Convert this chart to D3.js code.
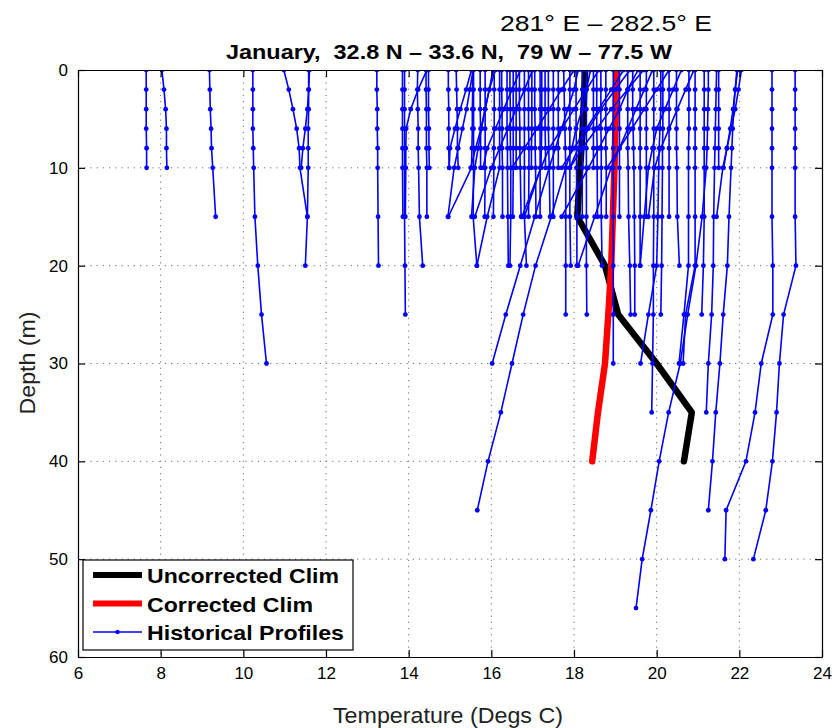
<!DOCTYPE html>
<html>
<head>
<meta charset="utf-8">
<script src="https://cdn.jsdelivr.net/npm/d3@7"></script>
<style>
  html, body { margin: 0; padding: 0; background: #ffffff; }
  svg { display: block; font-family: "Liberation Sans", Arial, Helvetica, sans-serif; }
  .keep-spaces { white-space: pre; }
</style>
</head>
<body>
<svg id="chart" width="835" height="728"></svg>
<script>
// Standard observation depths (m) used by every profile below
const depthLevels = [0, 2, 4, 6, 8, 10, 15, 20, 25, 30, 35, 40, 45, 50, 55];

// Climatologies (temperature at each standard depth, 0-40 m)
const uncorrectedTemps = [18.27, 18.25, 18.23, 18.21, 18.18, 18.15, 18.08, 18.75, 19.07, 20.0, 20.85, 20.66];
const correctedTemps   = [19.03, 19.02, 19.01, 19.0, 18.99, 18.98, 18.94, 18.9, 18.83, 18.75, 18.58, 18.44];

// Historical profiles: temperatures at depthLevels, each cut at its last observed depth
const historicalProfiles = [
  [7.65, 7.65, 7.65, 7.65, 7.66, 7.66],
  [8.03, 8.08, 8.12, 8.14, 8.14, 8.15],
  [9.18, 9.19, 9.2, 9.22, 9.23, 9.26, 9.33],
  [10.23, 10.23, 10.23, 10.23, 10.24, 10.25, 10.28, 10.35, 10.44, 10.56],
  [10.98, 11.1, 11.2, 11.29, 11.35, 11.37, 11.55],
  [11.58, 11.58, 11.58, 11.57, 11.57, 11.57, 11.55, 11.5],
  [11.6, 11.58, 11.55, 11.5, 11.44, 11.4],
  [13.23, 13.23, 13.24, 13.24, 13.25, 13.25, 13.26, 13.27],
  [13.85, 13.85, 13.85, 13.85, 13.85, 13.85, 13.86],
  [13.9, 13.9, 13.9, 13.9, 13.9, 13.9, 13.9, 13.91, 13.92],
  [14.44, 14.23, 14.05, 13.94, 13.93, 13.93, 13.92],
  [14.22, 14.21, 14.22, 14.23, 14.23, 14.24, 14.26, 14.34],
  [14.42, 14.42, 14.43, 14.43, 14.43, 14.44, 14.44],
  [14.48, 14.48, 14.48, 14.49, 14.49, 14.5],
  [14.96, 14.96, 14.97, 14.97, 14.97, 14.98],
  [15.15, 15.16, 15.17, 15.18, 15.18, 15.2],
  [15.52, 15.39, 15.25, 15.12, 15.0, 14.98],
  [15.55, 15.55, 15.54, 15.54, 15.53, 15.52, 14.96],
  [15.57, 15.57, 15.57, 15.57, 15.57, 15.57, 15.56, 15.65],
  [15.85, 15.85, 15.85, 15.85, 15.85, 15.85, 15.84],
  [15.73, 15.73, 15.73, 15.74, 15.74, 15.74],
  [16.07, 16.07, 16.07, 16.07, 16.06, 16.06, 16.05],
  [16.1, 15.95, 15.85, 15.75, 15.62, 15.5],
  [16.04, 15.95, 15.85, 15.76, 15.68, 15.6, 15.52],
  [15.56, 15.48, 15.4, 15.3, 15.2, 15.1, 14.95],
  [16.2, 16.2, 16.2, 16.2, 16.2, 16.2, 15.9, 15.65],
  [16.38, 16.38, 16.38, 16.38, 16.39, 16.39, 16.4, 16.41],
  [16.45, 16.45, 16.46, 16.46, 16.46, 16.47, 16.47, 16.45],
  [16.53, 16.53, 16.53, 16.53, 16.53, 16.53, 16.52],
  [16.68, 16.68, 16.68, 16.69, 16.69, 16.7, 16.72],
  [16.9, 16.9, 16.9, 16.9, 16.91, 16.91, 16.9],
  [16.98, 16.98, 16.98, 16.98, 16.97, 16.97],
  [17.22, 17.22, 17.22, 17.22, 17.21, 17.2, 16.74],
  [17.18, 17.18, 17.18, 17.18, 17.18, 17.18, 17.18],
  [17.38, 17.38, 17.38, 17.38, 17.39, 17.4, 17.42],
  [18.4, 18.3, 18.2, 18.05, 17.95, 17.8, 17.45, 17.07, 16.77, 16.5, 16.23, 15.92, 15.66],
  [18.1, 18.0, 17.85, 17.7, 17.55, 17.4, 17.05, 16.7, 16.35, 16.02],
  [17.75, 17.76, 17.77, 17.78, 17.79, 17.8, 17.8, 17.8, 17.8],
  [18.05, 18.05, 18.05, 18.05, 18.06, 18.06, 18.07, 18.07],
  [18.3, 18.3, 18.3, 18.3, 18.3, 18.3, 18.3, 18.3, 18.31],
  [18.2, 18.2, 18.2, 18.2, 18.2, 18.2, 18.2],
  [18.47, 18.47, 18.47, 18.47, 18.47, 18.47],
  [18.65, 18.65, 18.65, 18.65, 18.66, 18.66, 18.66, 18.68],
  [18.77, 18.77, 18.77, 18.77, 18.77, 18.78, 18.78],
  [18.95, 18.95, 18.95, 18.95, 18.95, 18.95, 18.95, 18.95, 18.95, 18.95],
  [19.3, 19.3, 19.3, 19.3, 19.3, 19.31, 19.32, 19.35, 19.37],
  [19.42, 19.42, 19.42, 19.43, 19.44, 19.45, 19.46, 19.47, 19.47],
  [20.1, 20.1, 20.1, 20.08, 20.06, 20.05, 20.03, 20.0, 19.8, 19.61],
  [19.93, 19.93, 19.93, 19.93, 19.93, 19.93, 19.93, 19.92, 19.92, 19.9, 19.88],
  [19.75, 19.75, 19.75, 19.75, 19.75, 19.75, 19.75],
  [20.15, 20.15, 20.15, 20.15, 20.14, 20.14, 20.13, 20.12, 20.1],
  [21.25, 21.25, 21.24, 21.23, 21.22, 21.2, 21.1, 20.95, 20.75, 20.57, 20.29, 20.06, 19.86, 19.65, 19.5],
  [20.78, 20.78, 20.78, 20.78, 20.77, 20.77, 20.77, 20.77, 20.66, 20.54],
  [20.93, 20.93, 20.93, 20.93, 20.93, 20.93, 20.93, 20.93, 20.7, 20.64],
  [21.15, 21.15, 21.15, 21.15, 21.15, 21.15, 21.15, 21.13, 21.09],
  [21.45, 21.44, 21.43, 21.42, 21.41, 21.4, 21.38, 21.37, 21.33, 21.25, 21.2],
  [21.94, 21.9, 21.86, 21.84, 21.82, 21.8, 21.75, 21.71, 21.61, 21.53, 21.43, 21.35, 21.25],
  [22.79, 22.79, 22.79, 22.79, 22.79, 22.79, 22.79, 22.81, 22.81, 22.53, 22.38, 22.16, 21.68, 21.65],
  [23.35, 23.35, 23.35, 23.35, 23.35, 23.35, 23.35, 23.37, 23.07, 22.97, 22.9, 22.8, 22.64, 22.34],
  [22.05, 21.98, 21.9, 21.8, 21.7, 21.6, 21.45],
  [21.96, 21.9, 21.85, 21.78, 21.7, 21.62],
  [21.5, 21.5, 21.5, 21.5, 21.5, 21.5],
  [19.68, 19.3, 18.9, 18.55, 18.2, 17.9],
  [19.35, 19.0, 18.65, 18.35, 18.1, 17.9],
  [19.55, 19.3, 19.1, 18.85, 18.6, 18.35, 17.7],
  [19.9, 19.7, 19.5, 19.3, 19.1, 18.9, 18.5, 18.1],
  [20.3, 20.3, 20.3, 20.3, 20.3, 20.3, 20.3],
  [20.48, 20.48, 20.48, 20.48, 20.48, 20.49, 20.5, 20.55],
  [17.5, 17.5, 17.5, 17.5, 17.5, 17.5, 17.5],
  [17.62, 17.62, 17.62, 17.62, 17.62, 17.62],
  [17.9, 17.9, 17.9, 17.9, 17.9, 17.9, 17.9, 17.92],
  [16.25, 16.25, 16.26, 16.26, 16.26, 16.27, 16.27],
  [16.6, 16.6, 16.6, 16.6, 16.6, 16.6],
  [17.05, 17.05, 17.05, 17.06, 17.06, 17.07, 17.08],
  [17.3, 17.3, 17.3, 17.3, 17.31, 17.31],
  [16.8, 16.8, 16.8, 16.8, 16.8, 16.8, 16.8, 16.85],
  [18.55, 18.55, 18.55, 18.55, 18.56, 18.56, 18.57],
  [19.1, 19.1, 19.1, 19.1, 19.1, 19.1, 19.1],
  [19.6, 19.6, 19.6, 19.6, 19.6, 19.6, 19.6, 19.6],
  [17.0, 16.8, 16.6, 16.4, 16.2, 16.0, 15.6],
  [18.0, 17.7, 17.4, 17.1, 16.8, 16.5],
  [18.6, 18.3, 18.0, 17.7, 17.4, 17.2, 16.8],
  [19.2, 18.9, 18.6, 18.3, 18.0, 17.7],
  [20.3, 20.0, 19.7, 19.4, 19.1, 18.8],
  [20.6, 20.4, 20.2, 20.0, 19.9, 19.8, 19.7, 19.6],
  [16.7, 16.5, 16.3, 16.1, 15.9, 15.8],
  [20.9, 20.7, 20.5, 20.3, 20.1, 19.95, 19.8]
];

// Axis ticks
const tempTicks = [6, 8, 10, 12, 14, 16, 18, 20, 22, 24];
const depthTicks = [0, 10, 20, 30, 40, 50, 60];

// Text
const regionLabel = "281° E – 282.5° E";
const titleText = "January,  32.8 N – 33.6 N,  79 W – 77.5 W";
const xLabel = "Temperature (Degs C)";
const yLabel = "Depth (m)";
const legendItems = [
  { label: "Uncorrected Clim", color: "#000000", width: 6, marker: false, len: 192 },
  { label: "Corrected Clim", color: "#ff0000", width: 6, marker: false, len: 166 },
  { label: "Historical Profiles", color: "#0000ff", width: 1.6, marker: true, len: 197 }
];

// ---- layout ----
const svg = d3.select("#chart");
const plot = { left: 78, top: 70, right: 822, bottom: 657 };

const x = d3.scaleLinear().domain([6, 24]).range([plot.left, plot.right]);
const y = d3.scaleLinear().domain([0, 60]).range([plot.top, plot.bottom]);

// clip region for data
svg.append("defs").append("clipPath").attr("id", "plotClip")
  .append("rect")
  .attr("x", plot.left).attr("y", plot.top)
  .attr("width", plot.right - plot.left).attr("height", plot.bottom - plot.top);

// dotted grid
const grid = svg.append("g").attr("class", "grid");
grid.selectAll("line.vx").data(tempTicks.slice(1, -1)).join("line")
  .attr("x1", d => x(d)).attr("x2", d => x(d))
  .attr("y1", plot.top).attr("y2", plot.bottom)
  .attr("stroke", "#6e6e6e").attr("stroke-width", 1).attr("stroke-dasharray", "1.2,5");
grid.selectAll("line.hy").data(depthTicks.slice(1, -1)).join("line")
  .attr("x1", plot.left).attr("x2", plot.right)
  .attr("y1", d => y(d)).attr("y2", d => y(d))
  .attr("stroke", "#6e6e6e").attr("stroke-width", 1).attr("stroke-dasharray", "1.2,5");

const data = svg.append("g").attr("clip-path", "url(#plotClip)");

const line = d3.line().x(d => x(d.t)).y(d => y(d.d));
const toPoints = temps => temps.map((t, i) => ({ t, d: depthLevels[i] }));

// climatologies
data.append("path")
  .attr("d", line(toPoints(uncorrectedTemps)))
  .attr("fill", "none").attr("stroke", "#000").attr("stroke-width", 6.5)
  .attr("stroke-linejoin", "round").attr("stroke-linecap", "round");
data.append("path")
  .attr("d", line(toPoints(correctedTemps)))
  .attr("fill", "none").attr("stroke", "#ff0000").attr("stroke-width", 6.5)
  .attr("stroke-linejoin", "round").attr("stroke-linecap", "round");

// historical profiles with dot markers
const prof = data.selectAll("g.profile").data(historicalProfiles.map(toPoints)).join("g")
  .attr("class", "profile");
prof.append("path")
  .attr("d", d => line(d))
  .attr("fill", "none").attr("stroke", "#0000ff").attr("stroke-width", 1.6);
prof.selectAll("circle").data(d => d).join("circle")
  .attr("cx", d => x(d.t)).attr("cy", d => y(d.d)).attr("r", 2.4)
  .attr("fill", "#0000ff");

// axes box with inward ticks on all sides
const tickLen = 7;
const axisFont = 17;

const gBottom = svg.append("g").attr("transform", `translate(0,${plot.bottom})`)
  .call(d3.axisBottom(x).tickValues(tempTicks).tickSize(-tickLen).tickPadding(10).tickSizeOuter(0));
const gTop = svg.append("g").attr("transform", `translate(0,${plot.top})`)
  .call(d3.axisTop(x).tickValues(tempTicks).tickSize(-tickLen).tickFormat("").tickSizeOuter(0));
const gLeft = svg.append("g").attr("transform", `translate(${plot.left},0)`)
  .call(d3.axisLeft(y).tickValues(depthTicks).tickSize(-tickLen).tickPadding(10).tickSizeOuter(0));
const gRight = svg.append("g").attr("transform", `translate(${plot.right},0)`)
  .call(d3.axisRight(y).tickValues(depthTicks).tickSize(-tickLen).tickFormat("").tickSizeOuter(0));

[gBottom, gTop, gLeft, gRight].forEach(g => {
  g.select(".domain").attr("stroke", "#000").attr("stroke-width", 1.2);
  g.selectAll(".tick line").attr("stroke", "#000").attr("stroke-width", 1.2);
  g.selectAll(".tick text").attr("fill", "#000")
    .style("font-size", axisFont + "px")
    .style("font-family", "'Liberation Sans', Arial, sans-serif");
});

// legend
const lg = svg.append("g").attr("transform", "translate(83,560)");
lg.append("rect").attr("width", 270).attr("height", 90)
  .attr("fill", "#fff").attr("stroke", "#000").attr("stroke-width", 1.2);
legendItems.forEach((it, i) => {
  const cy = 15 + i * 28.5;
  lg.append("line").attr("x1", 10).attr("x2", 59).attr("y1", cy).attr("y2", cy)
    .attr("stroke", it.color).attr("stroke-width", it.width);
  if (it.marker) {
    lg.append("circle").attr("cx", 34.5).attr("cy", cy).attr("r", 2.2).attr("fill", it.color);
  }
  lg.append("text").attr("x", 64).attr("y", cy + 8)
    .attr("font-size", 21).attr("font-weight", "bold").attr("fill", "#000")
    .attr("textLength", it.len).attr("lengthAdjust", "spacingAndGlyphs")
    .text(it.label);
});

// titles and axis labels
svg.append("text")
  .attr("x", 606).attr("y", 31).attr("text-anchor", "middle")
  .attr("font-size", 22).attr("fill", "#000")
  .attr("textLength", 212).attr("lengthAdjust", "spacingAndGlyphs")
  .text(regionLabel);

svg.append("text")
  .attr("class", "keep-spaces")
  .attr("x", 449).attr("y", 59).attr("text-anchor", "middle")
  .attr("font-size", 20).attr("font-weight", "bold").attr("fill", "#000")
  .attr("textLength", 446).attr("lengthAdjust", "spacingAndGlyphs")
  .text(titleText);

svg.append("text")
  .attr("x", 448).attr("y", 723).attr("text-anchor", "middle")
  .attr("font-size", 22).attr("fill", "#222")
  .attr("textLength", 230).attr("lengthAdjust", "spacingAndGlyphs")
  .text(xLabel);

svg.append("text")
  .attr("transform", "translate(35,363) rotate(-90)")
  .attr("text-anchor", "middle")
  .attr("font-size", 22).attr("fill", "#222")
  .attr("textLength", 103).attr("lengthAdjust", "spacingAndGlyphs")
  .text(yLabel);
</script>
</body>
</html>
